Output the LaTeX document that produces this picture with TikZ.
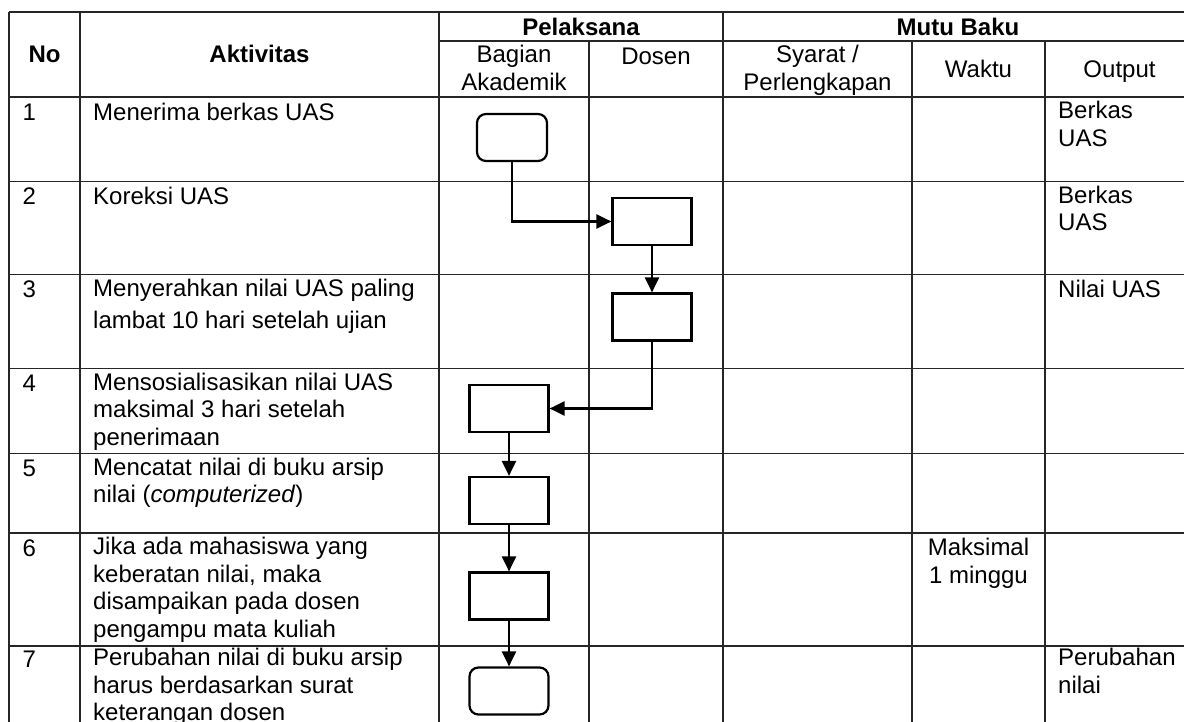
\documentclass[tikz,border=0pt]{standalone}
\usepackage{fontspec}
\setmainfont{Liberation Sans}
\usetikzlibrary{arrows.meta}
\newcommand{\cellfont}{\fontsize{24pt}{27.5pt}\selectfont}

\begin{document}
\begin{tikzpicture}[x=1pt, y=-1pt,
    grid/.style={draw=black!85, line width=1.1pt},
    cell/.style={anchor=north west, inner sep=0pt, align=left, font=\cellfont, execute at begin node=\strut},
    headcell/.style={anchor=north, inner sep=0pt, align=center, font=\cellfont, execute at begin node=\strut},
    titlecell/.style={inner sep=0pt, font=\cellfont\bfseries},
    procbox/.style={draw, line width=2.2pt, minimum width=79pt, minimum height=47pt, inner sep=0pt},
    termbox/.style={procbox, rounded corners=9pt, minimum width=70pt},
    arrow/.style={line width=2.2pt, -{Triangle[length=15pt, width=14pt]}}
]
    \useasboundingbox (0,0) rectangle (1184,722);
    \clip (0,0) rectangle (1184,722);

    % --- Table ---
    \draw[grid] (9,12) -- (1194,12);
    \draw[grid] (439,41) -- (1194,41);
    \foreach \y in {97,181.5,274.5,368.5,453.5,533,646}
        \draw[grid] (9,\y) -- (1194,\y);
    \foreach \x in {9,80,439,723,1194}
        \draw[grid] (\x,12) -- (\x,730);
    \foreach \x in {589,912,1045}
        \draw[grid] (\x,41) -- (\x,730);

    % Header
    \node[titlecell] (hno) at (44.5,54) {No};
    \node[titlecell] (hakt) at (259.5,54) {Aktivitas};
    \node[titlecell] (hpel) at (581,27) {Pelaksana};
    \node[titlecell] (hmutu) at (958,27) {Mutu Baku};
    \node[headcell] (hbag) at (514,45) {Bagian\\Akademik};
    \node[headcell] (hdos) at (656,45) {Dosen};
    \node[headcell] (hsyarat) at (817.5,45) {Syarat /\\Perlengkapan};
    \node[headcell] (hwaktu) at (978.5,58) {Waktu};
    \node[headcell] (hout) at (1119.5,58) {Output};

    % Row numbers
    \foreach \i/\y in {1/97,2/181.5,3/274.5,4/368.5,5/453.5,6/533,7/644}
        \node[cell] (no\i) at (22.5,\y+4) {\i};

    % Activities
    \node[cell] (act1) at (93,101) {Menerima berkas UAS};
    \node[cell] (act2) at (93,185.5) {Koreksi UAS};
    \node[cell] (act3) at (93,278.5) {Menyerahkan nilai UAS paling\\[5pt]lambat 10 hari setelah ujian};
    \node[cell] (act4) at (93,372.5) {Mensosialisasikan nilai UAS\\maksimal 3 hari setelah\\penerimaan};
    \node[cell] (act5) at (93,457.5) {Mencatat nilai di buku arsip\\nilai (\textit{computerized})};
    \node[cell] (act6) at (93,537) {Jika ada mahasiswa yang\\keberatan nilai, maka\\disampaikan pada dosen\\pengampu mata kuliah};
    \node[cell] (act7) at (93,648) {Perubahan nilai di buku arsip\\harus berdasarkan surat\\keterangan dosen};

    % Waktu and Output
    \node[headcell] (waktu6) at (978.5,538) {Maksimal\\1 minggu};
    \node[cell] (out1) at (1058,101) {Berkas\\UAS};
    \node[cell] (out2) at (1058,185.5) {Berkas\\UAS};
    \node[cell] (out3) at (1058,278.5) {Nilai UAS};
    \node[cell] (out7) at (1058,648) {Perubahan\\nilai};

    % --- Flow ---
    \node[termbox] (start) at (512,137.5) {};
    \node[procbox] (koreksi) at (652,221.5) {};
    \node[procbox] (serah) at (652,317) {};
    \node[procbox] (sosial) at (509,408.5) {};
    \node[procbox] (catat) at (509,500.5) {};
    \node[procbox] (keberatan) at (509,596) {};
    \node[termbox, minimum width=79pt] (ubah) at (509,691) {};

    \draw[arrow] (start.south) |- (koreksi.west);
    \draw[arrow] (koreksi) -- (serah);
    \draw[arrow] (serah.south) |- (sosial.east);
    \draw[arrow] (sosial) -- (catat);
    \draw[arrow] (catat) -- (keberatan);
    \draw[arrow] (keberatan) -- (ubah);

\end{tikzpicture}
\end{document}
